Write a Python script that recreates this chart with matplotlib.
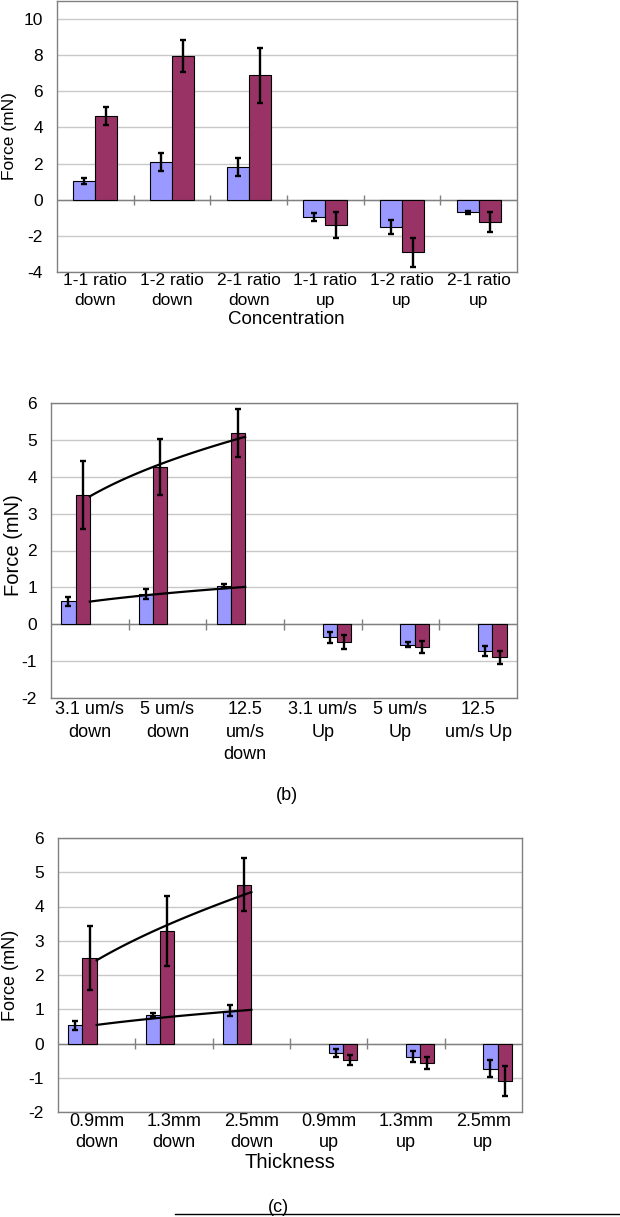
import numpy as np
import matplotlib.pyplot as plt
from matplotlib.lines import Line2D

plt.rcParams['font.family'] = ['Liberation Sans', 'DejaVu Sans']
plt.rcParams['axes.unicode_minus'] = False

AZUL = '#9999FF'
MORADO = '#993366'
GRIS = '#808080'

# (a) concentracion
etiquetas_a = ['1-1 ratio\ndown', '1-2 ratio\ndown', '2-1 ratio\ndown',
               '1-1 ratio\nup', '1-2 ratio\nup', '2-1 ratio\nup']
azul_a = [1.03, 2.09, 1.83, -0.95, -1.49, -0.70]
azul_err_a = [0.18, 0.52, 0.50, 0.21, 0.38, 0.08]
morado_a = [4.66, 7.94, 6.88, -1.39, -2.92, -1.21]
morado_err_a = [0.50, 0.88, 1.50, 0.71, 0.79, 0.55]

# (b) velocidad
etiquetas_b = ['3.1 um/s\ndown', '5 um/s\ndown', '12.5\num/s\ndown',
               '3.1 um/s\nUp', '5 um/s\nUp', '12.5\num/s Up']
azul_b = [0.62, 0.82, 1.03, -0.35, -0.55, -0.72]
azul_err_b = [0.12, 0.14, 0.06, 0.15, 0.06, 0.13]
morado_b = [3.51, 4.27, 5.19, -0.49, -0.62, -0.90]
morado_err_b = [0.93, 0.76, 0.66, 0.19, 0.17, 0.18]

# (c) espesor
etiquetas_c = ['0.9mm\ndown', '1.3mm\ndown', '2.5mm\ndown',
               '0.9mm\nup', '1.3mm\nup', '2.5mm\nup']
azul_c = [0.535, 0.82, 0.96, -0.27, -0.39, -0.74]
azul_err_c = [0.13, 0.06, 0.17, 0.11, 0.16, 0.25]
morado_c = [2.50, 3.28, 4.64, -0.48, -0.56, -1.09]
morado_err_c = [0.94, 1.02, 0.78, 0.14, 0.17, 0.44]

fig = plt.figure(figsize=(6.2, 12.17), dpi=100)


def estilo(ax, ymin, ymax, ytop, paso, cruce):
    ax.set_xlim(-0.5, 5.5)
    ax.set_ylim(ymin, ytop)
    ax.set_yticks(np.arange(ymin, ymax + paso / 2, paso))
    ax.set_yticklabels([str(int(v)) for v in np.arange(ymin, ymax + paso / 2, paso)])
    ax.yaxis.grid(True, color='#c8c8c8', lw=1)
    ax.set_axisbelow(True)
    for s in ax.spines.values():
        s.set_color(GRIS)
        s.set_linewidth(1)
    ax.axhline(0, color=GRIS, lw=1, zorder=1)
    ax.vlines(np.arange(0.5, 5, 1), -cruce, cruce, color=GRIS, lw=1, zorder=1)
    ax.tick_params(axis='both', length=0)
    ax.tick_params(axis='y', pad=10, labelsize=12.5)


def barras(ax, pos_azul, pos_morado, w, az, az_e, mo, mo_e):
    ax.bar(pos_azul, az, w, color=AZUL, edgecolor='black', lw=0.8, zorder=2)
    ax.bar(pos_morado, mo, w, color=MORADO, edgecolor='black', lw=0.8, zorder=2)
    ax.errorbar(pos_azul, az, yerr=az_e, fmt='none', ecolor='black',
                elinewidth=1.7, capsize=2.4, capthick=1.7, zorder=3)
    ax.errorbar(pos_morado, mo, yerr=mo_e, fmt='none', ecolor='black',
                elinewidth=1.7, capsize=2.4, capthick=1.7, zorder=3)


def tendencia(ax, valores):
    # linea de tendencia potencial (como Excel) sobre las 3 categorias "down"
    xs = np.array([1, 2, 3])
    k, lnc = np.polyfit(np.log(xs), np.log(valores[:3]), 1)
    xx = np.linspace(1, 3, 60)
    ax.plot(xx - 1, np.exp(lnc) * xx ** k, color='black', lw=1.6, zorder=4)


x = np.arange(6)

# ---------- (a)
ax1 = fig.add_axes([57 / 620, 1 - 272 / 1217, 460 / 620, 271 / 1217])
estilo(ax1, -4, 10, 11, 2, 0.28)
w = 0.287
barras(ax1, x - w / 2, x + w / 2, w, azul_a, azul_err_a, morado_a, morado_err_a)
ax1.set_xticks(x)
ax1.set_xticklabels(etiquetas_a, fontsize=12.5, linespacing=1.4)
ax1.tick_params(axis='x', pad=1)
fig.text(286 / 620, 1 - 320 / 1217, 'Concentration', ha='center', va='center', fontsize=13.5)
fig.text(10 / 620, 1 - 136 / 1217, 'Force (mN)', rotation=90, ha='center', va='center', fontsize=12.5)

# ---------- (b), (c): 4 huecos por categoria, down a la izquierda y up a la derecha
w = 0.184
abajo = x < 3
pos_az = np.where(abajo, x - 1.5 * w, x + 0.5 * w)
pos_mo = np.where(abajo, x - 0.5 * w, x + 1.5 * w)

ax2 = fig.add_axes([51 / 620, 1 - 698 / 1217, 466 / 620, 295 / 1217])
estilo(ax2, -2, 6, 6, 1, 0.145)
barras(ax2, pos_az, pos_mo, w, azul_b, azul_err_b, morado_b, morado_err_b)
tendencia(ax2, azul_b)
tendencia(ax2, morado_b)
ax2.set_xticks(x)
ax2.set_xticklabels(etiquetas_b, fontsize=13, linespacing=1.45)
ax2.tick_params(axis='x', pad=2)
fig.text(14 / 620, 1 - 545 / 1217, 'Force (mN)', rotation=90, ha='center', va='center', fontsize=14.5)
fig.text(287 / 620, 1 - 795 / 1217, '(b)', ha='center', va='center', fontsize=13)

ax3 = fig.add_axes([58 / 620, 1 - 1112 / 1217, 464 / 620, 274 / 1217])
estilo(ax3, -2, 6, 6, 1, 0.15)
barras(ax3, pos_az, pos_mo, w, azul_c, azul_err_c, morado_c, morado_err_c)
tendencia(ax3, azul_c)
tendencia(ax3, morado_c)
ax3.set_xticks(x)
ax3.set_xticklabels(etiquetas_c, fontsize=13, linespacing=1.3)
ax3.tick_params(axis='x', pad=1)
fig.text(290 / 620, 1 - 1163 / 1217, 'Thickness', ha='center', va='center', fontsize=14.5)
fig.text(11 / 620, 1 - 975 / 1217, 'Force (mN)', rotation=90, ha='center', va='center', fontsize=13)
fig.text(278 / 620, 1 - 1207 / 1217, '(c)', ha='center', va='center', fontsize=13)

fig.add_artist(Line2D([175 / 620, 1], [1 - 1214 / 1217, 1 - 1214 / 1217],
                      transform=fig.transFigure, color='black', lw=1))

fig.savefig('out.png', dpi=100, facecolor='white')
